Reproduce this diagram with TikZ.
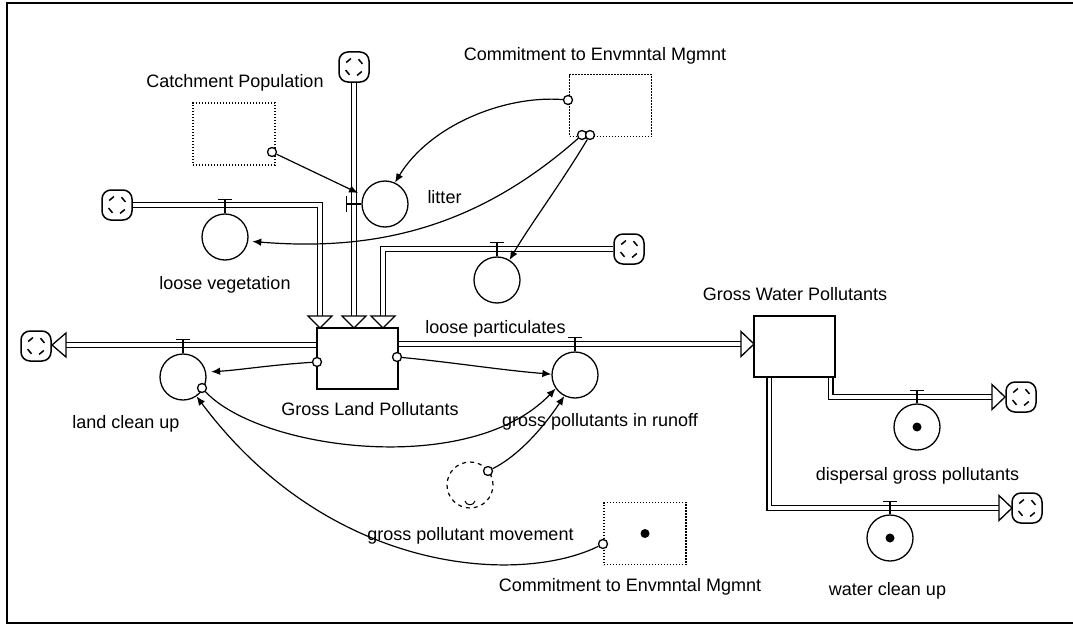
\documentclass[tikz,border=0pt]{standalone}
\usepackage{fontspec}
\setmainfont{Liberation Sans}
\usetikzlibrary{arrows.meta}

\tikzset{
  lbl/.style={anchor=base, inner sep=0pt, font=\fontsize{18}{20}\selectfont},
  stock/.style={draw, line width=1.6pt, minimum width=81pt, minimum height=61pt, inner sep=0pt, fill=white},
  flowc/.style={draw, circle, line width=1.3pt, minimum size=46pt, inner sep=0pt, fill=white},
  aux/.style={draw, dash pattern=on 1.4pt off 1.6pt, line width=1.4pt, minimum width=82pt, minimum height=62pt, inner sep=0pt},
  ghost/.style={draw, circle, dash pattern=on 4pt off 4pt, line width=1.2pt, minimum size=46pt, inner sep=0pt},
  pipe/.style={draw, line width=1.4pt, double=white, double distance=3.2pt, line join=miter},
  pipehead/.style={draw, line width=1.3pt, fill=white, line join=miter},
  valve/.style={line width=1.4pt},
  conn/.style={line width=1.2pt, -{Latex[length=9pt,width=7.5pt]}},
  port/.style={draw, circle, line width=1.3pt, minimum size=9pt, inner sep=0pt, fill=white},
  cloudbox/.style={draw, line width=1.5pt, rounded corners=9pt, minimum width=30pt, minimum height=30pt,
    inner sep=0pt, fill=white,
    path picture={\foreach \a in {40,130,220,310}{
      \draw[line width=1.5pt] ([shift={(\a-20:9pt)}]path picture bounding box.center)
        -- ([shift={(\a+20:9pt)}]path picture bounding box.center);}}},
  dotmark/.style={fill=black}
}

\begin{document}
\begin{tikzpicture}[x=1pt,y=-1pt]
\useasboundingbox (0,0) rectangle (1073,626);

% outer frame
\draw[line width=1.6pt] (1073,3) -- (7,3) -- (7,623) -- (1073,623);

% stocks
\node[stock] (GL) at (357.5,358.5) {};
\node[stock] (GW) at (794.5,346.5) {};

% sources and sinks
\node[cloudbox] (cT) at (354,67) {};
\node[cloudbox] (cV) at (117,205) {};
\node[cloudbox] (cP) at (629,249) {};
\node[cloudbox] (cC) at (36,346) {};
\node[cloudbox] (cD) at (1021,397) {};
\node[cloudbox] (cW) at (1027,508) {};

% pipe arrow tips
\coordinate (tV) at (320,328);
\coordinate (tT) at (354,328);
\coordinate (tP) at (383,328);
\coordinate (tC) at (52,345);
\coordinate (tGW) at (754,344);
\coordinate (tD) at (1005,397);
\coordinate (tW) at (1012,508);

% material flows
\draw[pipe] (cT.south) -- ([yshift=12pt]tT);
\draw[pipe] (cV.east) -| ([yshift=12pt]tV);
\draw[pipe] (cP.west) -| ([yshift=12pt]tP);
\draw[pipe] (GL.west |- tC) -- ([xshift=14pt]tC);
\draw[pipe] (GL.east |- tGW) -- ([xshift=-13pt]tGW);
\draw[pipe] ([xshift=-5pt]GW.south east) |- ([xshift=-13pt]tD);
\draw[pipe] ([xshift=16pt]GW.south west) |- ([xshift=-13pt]tW);

\draw[pipehead] (tV) -- ++(-12,-12) -- ++(24,0) -- cycle;
\draw[pipehead] (tT) -- ++(-12,-12) -- ++(24,0) -- cycle;
\draw[pipehead] (tP) -- ++(-12,-12) -- ++(24,0) -- cycle;
\draw[pipehead] (tC) -- ++(14,-12) -- ++(0,24) -- cycle;
\draw[pipehead] (tGW) -- ++(-13,-12.5) -- ++(0,25) -- cycle;
\draw[pipehead] (tD) -- ++(-13,-12.5) -- ++(0,25) -- cycle;
\draw[pipehead] (tW) -- ++(-13,-12.5) -- ++(0,25) -- cycle;

% flow rates
\node[flowc] (V) at (225,237) {};
\node[flowc] (L) at (385,204) {};
\node[flowc] (P) at (497,280) {};
\node[flowc] (C) at (183,377) {};
\node[flowc] (R) at (575,375) {};
\node[flowc] (D) at (917,427) {};
\node[flowc] (W) at (890,538) {};
\fill[dotmark] (D) circle (4.5pt);
\fill[dotmark] (W) circle (4.5pt);

% valves
\draw[valve] (V.north) -- ++(0,-14) ++(-7,0) -- ++(14,0);
\draw[valve] (P.north) -- ++(0,-14) ++(-7,0) -- ++(14,0);
\draw[valve] (C.north) -- ++(0,-14) ++(-7,0) -- ++(14,0);
\draw[valve] (R.north) -- ++(0,-14) ++(-7,0) -- ++(14,0);
\draw[valve] (D.north) -- ++(0,-13) ++(-7,0) -- ++(14,0);
\draw[valve] (W.north) -- ++(0,-13) ++(-7,0) -- ++(14,0);
\draw[valve] (L.west) -- ++(-15,0) ++(0,-8) -- ++(0,16);

% auxiliaries
\node[aux] (CP) at (234,134) {};
\node[aux] (CM1) at (610.5,105.5) {};
\node[aux] (CM2) at (645,533.5) {};
\fill[dotmark] (CM2) circle (4.5pt);
\node[ghost] (G) at (470,485) {};
\draw[line width=1pt] (465,501) .. controls (466,506) and (474,506) .. (475,501);

% connector ports
\node[port] (pCP) at (272,152) {};
\node[port] (pM1a) at (568,100) {};
\node[port] (pM1b) at (582,135) {};
\node[port] (pM1c) at (590,135) {};
\node[port] (pM2) at (603,544) {};
\node[port] (pGLl) at (317,362) {};
\node[port] (pGLr) at (397,357) {};
\node[port] (pC) at (202,388) {};
\node[port] (pG) at (488,471) {};

% information links
\coordinate (Lvalve) at (358,193);
\draw[conn] (pCP) -- (Lvalve);
\draw[conn] (pM1a) .. controls (505,95) and (430,125) .. (L.65);
\draw[conn, shorten >=4pt] (pM1b) .. controls (480,225) and (380,252) .. (V.350);
\draw[conn] (pM1c) .. controls (560,185) and (530,225) .. (P.58);
\draw[conn, shorten >=5pt] (pGLl) .. controls (270,365) and (240,370) .. (C.12);
\draw[conn] (pGLr) .. controls (450,362) and (500,370) .. (R.178);
\draw[conn] (pC) .. controls (260,450) and (470,478) .. (R.215);
\draw[conn] (pG) .. controls (520,455) and (545,425) .. (R.243);
\draw[conn] (pM2) .. controls (520,585) and (330,575) .. (C.305);

% labels
\node[lbl] (tCP) at (235,88) {Catchment Population};
\node[lbl] (tM1) at (595,60) {Commitment to Envmntal Mgmnt};
\node[lbl] (tL) at (444.5,203) {litter};
\node[lbl] (tV2) at (225,289) {loose vegetation};
\node[lbl] (tP2) at (495.5,333) {loose particulates};
\node[lbl] (tGW2) at (795,300) {Gross Water Pollutants};
\node[lbl] (tC2) at (126,428) {land clean up};
\node[lbl] (tGL) at (370,415) {Gross Land Pollutants};
\node[lbl] (tR) at (600,426) {gross pollutants in runoff};
\node[lbl] (tD2) at (917.5,480) {dispersal gross pollutants};
\node[lbl] (tG) at (470.5,540) {gross pollutant movement};
\node[lbl] (tM2) at (630,591) {Commitment to Envmntal Mgmnt};
\node[lbl] (tW2) at (887.5,595) {water clean up};
\end{tikzpicture}
\end{document}
